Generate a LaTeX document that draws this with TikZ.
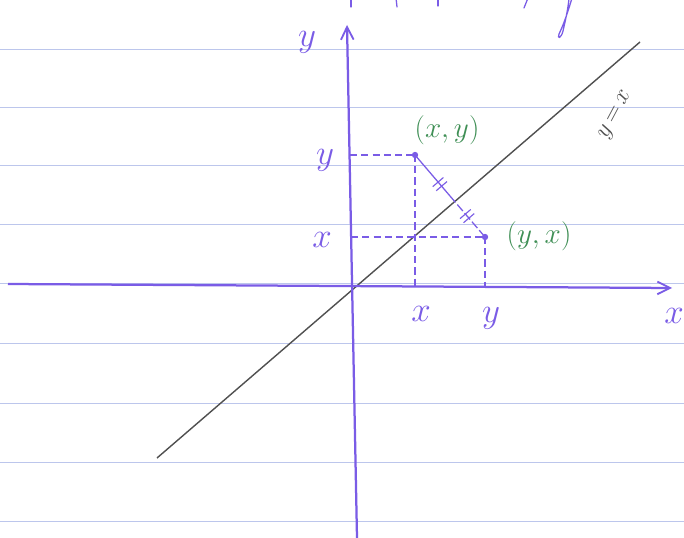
\documentclass[tikz,border=0pt]{standalone}
\usetikzlibrary{arrows.meta,calc}
\definecolor{pen}{HTML}{7A5CE6}
\definecolor{grn}{HTML}{3F8F55}
\definecolor{rule}{HTML}{BCC6EC}
\definecolor{pencil}{HTML}{505050}
\begin{document}
\begin{tikzpicture}[x=0.025cm,y=-0.025cm,
  ruleline/.style={draw=rule,line width=0.6pt},
  axis/.style={draw=pen,line width=1.6pt,-{Straight Barb[length=9pt,width=9pt,line width=1.3pt]}},
  guide/.style={draw=pen,line width=0.8pt,dash pattern=on 5pt off 3pt},
  diag/.style={draw=pencil,line width=1pt},
  lbl/.style={text=pen,font=\fontsize{26}{26}\selectfont,inner sep=0pt},
  ptlbl/.style={text=grn,font=\fontsize{22}{22}\selectfont,inner sep=0pt},
  dot/.style={circle,fill=pen,inner sep=0pt,minimum size=4.5pt},
  tick/.style={draw=pen,line width=0.8pt},
  scrap/.style={draw=pen,line width=0.9pt,line cap=round}]
\useasboundingbox (0,0) rectangle (684,538);
\fill[white] (0,0) rectangle (684,538);
% notebook rules
\foreach \yy in {49,107,165,224,283,343,403,462,521}
  \draw[ruleline] (0,\yy) -- (684,\yy);
% cut-off handwriting at the top edge
\begin{scope}
\clip (0,0) rectangle (684,538);
\draw[scrap] (351,-2) -- (351,7);
\draw[scrap] (396,-2) -- (397,7);
\draw[scrap] (438,-2) -- (438,6);
\draw[scrap] (528,-2) -- (524,8);
\draw[scrap] (572,-2) .. controls (568,12) and (563,26) .. (559,34) .. controls (557,39) and (561,39) .. (563,31) .. controls (565,22) and (568,10) .. (569,-2);
\end{scope}
% y = x line
\coordinate (L1) at (157,458);
\coordinate (L2) at (640,42);
\draw[diag] (L1) -- (L2);
\node[text=pencil,font=\fontsize{19}{19}\selectfont,rotate=62,inner sep=1pt] (lyx) at (616,115) {$y\,{=}\,x$};
% axes
\coordinate (xl) at (8,284);
\coordinate (xr) at (672,288);
\coordinate (yb) at (357,538);
\coordinate (yt) at (347,25);
\draw[axis] (xl) -- (xr);
\draw[axis] (yb) -- (yt);
\node[lbl] (ly) at (307,42) {$y$};
\node[lbl] (lx) at (674,316) {$x$};
% points
\node[dot] (P) at (415,155) {};
\node[dot] (Q) at (485,237) {};
\coordinate (Py) at (350,155);
\coordinate (Px) at (415,289);
\coordinate (Qy) at (351,237);
\coordinate (Qx) at (485,288);
\draw[guide] (Py) -- (P.center);
\draw[guide] (P.center) -- (Px);
\draw[guide] (Qy) -- (Q.center);
\draw[guide] (Q.center) -- (Qx);
% segment between the points with equal-length marks
\draw[draw=pen,line width=0.9pt] (P.center) -- ($(P.center)!0.5!(Q.center)$) coordinate (M);
\draw[draw=pen,line width=0.9pt,dash pattern=on 6pt off 2pt] (M) -- (Q.center);
\foreach \t in {0.33,0.38,0.72,0.77}
  \draw[tick] ($(P.center)!\t!(Q.center)!5pt!90:(Q.center)$) -- ($(P.center)!\t!(Q.center)!5pt!-90:(Q.center)$);
% labels
\node[lbl] (ly1) at (325,160) {$y$};
\node[lbl] (lx1) at (322,240) {$x$};
\node[lbl] (lx2) at (421,314) {$x$};
\node[lbl] (ly2) at (491,318) {$y$};
\node[ptlbl] (lP) at (447,130) {$(x,y)$};
\node[ptlbl] (lQ) at (539,236) {$(y,x)$};
\end{tikzpicture}
\end{document}
